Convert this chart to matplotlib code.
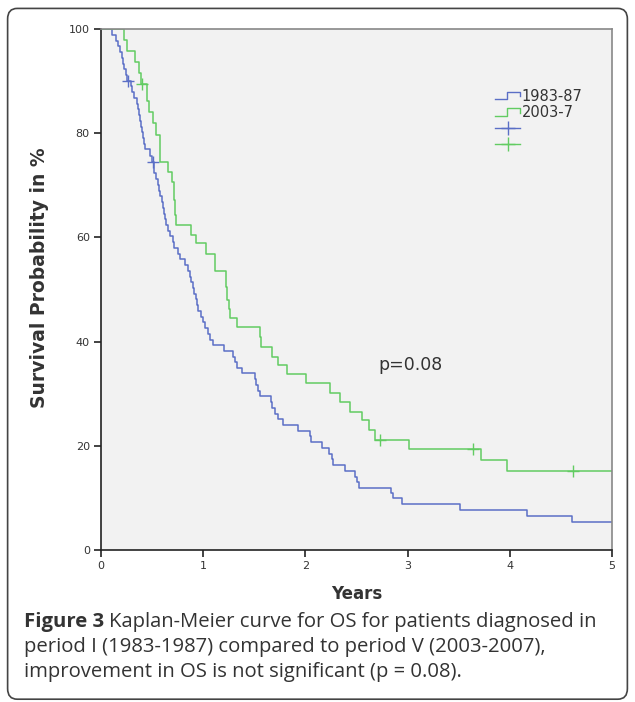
"""
Kaplan-Meier curves for OS, period I (1983-87) vs period V (2003-7).
Saves out.png.
"""

import numpy as np
import matplotlib.pyplot as plt
from matplotlib.lines import Line2D
from matplotlib.legend_handler import HandlerLine2D
from matplotlib.patches import FancyBboxPatch

# step times (years) and survival (%) after each drop
blue_t = [0, 0.11, 0.15, 0.17, 0.19, 0.21, 0.22, 0.23, 0.24, 0.25, 0.29, 0.30,
          0.32, 0.35, 0.36, 0.37, 0.38, 0.39, 0.40, 0.41, 0.42, 0.43, 0.48, 0.50,
          0.52, 0.54, 0.56, 0.57, 0.58, 0.60, 0.61, 0.62, 0.63, 0.64, 0.66, 0.68,
          0.70, 0.71, 0.75, 0.77, 0.82, 0.85, 0.87, 0.88, 0.90, 0.91, 0.93, 0.94,
          0.95, 0.98, 1.00, 1.02, 1.05, 1.07, 1.10, 1.20, 1.29, 1.31, 1.33, 1.38,
          1.51, 1.52, 1.54, 1.56, 1.66, 1.67, 1.70, 1.73, 1.78, 1.93, 2.04, 2.05,
          2.16, 2.23, 2.26, 2.27, 2.39, 2.48, 2.50, 2.52, 2.84, 2.86, 2.94, 3.51,
          4.17, 4.61]
blue_s = [100, 98.9, 97.8, 96.7, 95.6, 94.5, 93.4, 92.3, 91.2, 90.1, 89.0, 87.9,
          86.8, 85.7, 84.6, 83.5, 82.4, 81.3, 80.2, 79.1, 78.0, 76.9, 75.6, 74.5,
          72.3, 71.2, 70.1, 69.0, 67.9, 66.8, 65.7, 64.6, 63.5, 62.4, 61.3, 60.2,
          59.1, 58.0, 56.9, 55.8, 54.7, 53.6, 52.5, 51.4, 50.3, 49.2, 48.1, 47.0,
          45.9, 44.8, 43.7, 42.6, 41.5, 40.4, 39.3, 38.2, 37.1, 36.0, 35.0, 33.9,
          32.8, 31.7, 30.6, 29.5, 28.4, 27.3, 26.2, 25.1, 24.0, 22.9, 21.8, 20.7,
          19.6, 18.5, 17.4, 16.3, 15.2, 14.1, 13.0, 12.0, 10.9, 9.9, 8.8, 7.7,
          6.6, 5.4]
blue_cens = [0.26, 0.51]

green_t = [0, 0.23, 0.25, 0.33, 0.37, 0.39, 0.45, 0.47, 0.51, 0.54, 0.58, 0.66,
           0.69, 0.71, 0.72, 0.73, 0.88, 0.93, 1.03, 1.12, 1.22, 1.23, 1.25, 1.26,
           1.33, 1.56, 1.57, 1.67, 1.73, 1.82, 2.01, 2.24, 2.34, 2.44, 2.55, 2.62,
           2.68, 3.01, 3.72, 3.97]
green_s = [100, 97.9, 95.8, 93.7, 91.6, 89.5, 86.2, 84.1, 81.9, 79.7, 74.5, 72.6,
           70.7, 67.2, 64.3, 62.4, 60.5, 58.9, 56.9, 53.6, 50.5, 48.0, 46.2, 44.5,
           42.9, 40.9, 39.0, 37.1, 35.5, 33.8, 32.0, 30.1, 28.5, 26.5, 24.9, 23.0,
           21.2, 19.4, 17.3, 15.2]
green_cens = [0.40, 2.73, 3.64, 4.62]

labels = ["1983-87", "2003-7"]
blue = "#5b6fc6"
green = "#62cc62"
text_col = "#333333"


def surv_at(t, times, surv):
    """ Survival value of the step function at time t. """
    i = np.searchsorted(times, t, side="right") - 1
    return surv[i]


class StepHandler(HandlerLine2D):
    """ Legend handle drawn as a small step, like SPSS does. """
    def create_artists(self, legend, orig_handle, xdescent, ydescent,
                       width, height, fontsize, trans):
        x0, x1 = -xdescent, -xdescent + width
        xm = x0 + width * 0.48
        y0, y1 = height * 0.1, height * 0.85
        line = Line2D([x0, xm, xm, x1, x1], [y0, y0, y1, y1, y0 + height * 0.3],
                      color=orig_handle.get_color(), lw=1)
        line.set_transform(trans)
        return [line]


fig = plt.figure(figsize=(6.35, 7.02), dpi=100)
ax = fig.add_axes([0.159, 0.2165, 0.805, 0.742])
ax.set_facecolor("#f2f2f2")

series = [(blue_t, blue_s, blue_cens, blue), (green_t, green_s, green_cens, green)]
for times, surv, cens, col in series:
    tt = list(times) + [5.0]
    ss = list(surv) + [surv[-1]]
    ax.step(tt, ss, where="post", color=col, lw=1.1)
    cy = [surv_at(c, times, surv) for c in cens]
    ax.plot(cens, cy, "+", color=col, ms=8, mew=1)

ax.set_xlim(0, 5)
ax.set_ylim(0, 100)
ax.set_xticks(range(0, 6))
ax.set_yticks(range(0, 101, 20))
ax.tick_params(direction="out", length=5, width=1.2, labelsize=8,
               labelcolor=text_col, color="#222222", pad=3)
for side in ["left", "bottom"]:
    ax.spines[side].set_color("#222222")
    ax.spines[side].set_linewidth(1.2)
for side in ["top", "right"]:
    ax.spines[side].set_color("#888888")
    ax.spines[side].set_linewidth(1.2)

ax.set_xlabel("Years", fontsize=12, fontweight="bold", color=text_col, labelpad=10)
ax.set_ylabel("Survival Probability in %", fontsize=13.5, fontweight="bold",
              color=text_col, labelpad=14)
ax.yaxis.label.set_y(0.522)

ax.text(2.71, 35.5, "p=0.08", fontsize=12.5, color=text_col, va="center")

h1 = Line2D([], [], color=blue)
h2 = Line2D([], [], color=green)
h3 = Line2D([], [], color=blue, marker="+", ms=10, lw=1)
h4 = Line2D([], [], color=green, marker="+", ms=10, lw=1)
leg = ax.legend([h1, h2, h3, h4], labels + ["", ""], loc="upper left",
                bbox_to_anchor=(0.757, 0.9), frameon=False, fontsize=10.5,
                borderpad=0, handlelength=1.7, handletextpad=0.12,
                labelspacing=0.08,
                handler_map={h1: StepHandler(), h2: StepHandler()})
for t in leg.get_texts():
    t.set_color(text_col)

# caption under the chart, "Figure 3" in bold
cap_font = "Open Sans"
cap_size = 14.6
fig.canvas.draw()
r = fig.canvas.get_renderer()
t0 = fig.text(0.038, 0.114, "Figure 3", fontsize=cap_size, fontweight="bold",
              color=text_col, family=cap_font, va="center")
bb = t0.get_window_extent(renderer=r)
fig.text(bb.x1 / fig.bbox.width + 0.008, 0.114,
         "Kaplan-Meier curve for OS for patients diagnosed in",
         fontsize=cap_size, color=text_col, family=cap_font, va="center")
fig.text(0.038, 0.0785, "period I (1983-1987) compared to period V (2003-2007),",
         fontsize=cap_size, color=text_col, family=cap_font, va="center")
fig.text(0.038, 0.043, "improvement in OS is not significant (p = 0.08).",
         fontsize=cap_size, color=text_col, family=cap_font, va="center")

# rounded frame round the whole figure
frame = FancyBboxPatch((0.012, 0.004), 0.976, 0.984,
                       boxstyle="round,pad=0,rounding_size=0.015",
                       transform=fig.transFigure, fill=False,
                       edgecolor="#444444", lw=1.2)
fig.patches.append(frame)

fig.savefig("out.png", dpi=100)
